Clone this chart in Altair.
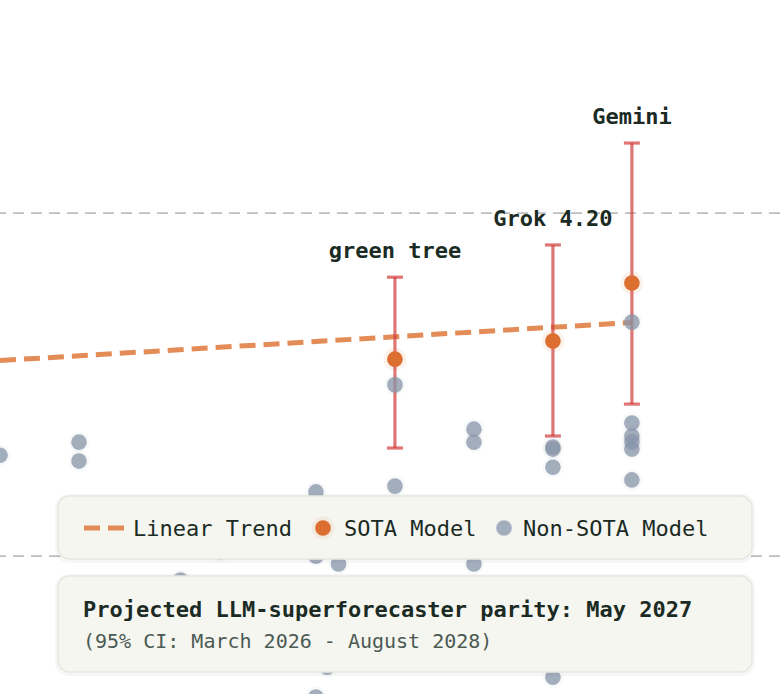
import altair as alt
import pandas as pd

# x = release date (days since 2025-01-01), y = forecasting score (Brier index, %)
sota_names = ["green tree", "Grok 4.20", "Gemini"]
sota_day = [238, 294, 322]
sota_score = [65.74, 66.27, 67.96]
sota_ci_low = [63.15, 63.50, 64.43]
sota_ci_high = [68.13, 69.07, 72.04]

other_day = [98, 126, 126, 162, 176, 210, 210, 210, 214, 218, 238, 238,
             266, 266, 266, 294, 294, 294, 294, 322, 322, 322, 322, 322, 322]
other_score = [62.94, 63.32, 62.77, 59.30, 60.12, 61.87, 60.00, 55.89, 56.76, 59.77, 64.99, 62.04,
               63.70, 63.32, 59.77, 63.18, 63.12, 62.59, 56.47, 66.82, 63.88, 63.50, 63.33, 63.12, 62.22]

trend_day = [98, 322]
trend_score = [65.70, 66.81]

ref_levels = [70.0, 60.0]

legend_labels = ["Linear Trend", "SOTA Model", "Non-SOTA Model"]
note_title = "Projected LLM-superforecaster parity: May 2027"
note_sub = "(95% CI: March 2026 - August 2028)"

W, H = 780, 694
MONO = "DejaVu Sans Mono"
INK = "#1b2b24"
ORANGE = "#dc6e30"
TREND = "#e38c58"
GREY = "#8794a8"
RED = "#d23a3a"

sota = pd.DataFrame({"name": sota_names, "day": sota_day, "score": sota_score,
                     "lo": sota_ci_low, "hi": sota_ci_high})
others = pd.DataFrame({"day": other_day, "score": other_score})
trend = pd.DataFrame({"day": trend_day, "score": trend_score})
refs = pd.DataFrame({"level": ref_levels})

xs = alt.Scale(domain=[98, 374.5], nice=False, zero=False)
ys = alt.Scale(domain=[55.98, 76.21], nice=False, zero=False)


def X(f):
    return alt.X(f, type="quantitative", scale=xs, axis=None)


def Y(f):
    return alt.Y(f, type="quantitative", scale=ys, axis=None)


ref_rules = alt.Chart(refs).mark_rule(stroke="#bdbdbd", strokeWidth=1.8, strokeDash=[11, 7]).encode(
    y=Y("level"))

trend_line = alt.Chart(trend).mark_line(color=TREND, strokeWidth=5, strokeDash=[16, 8], clip=True).encode(
    x=X("day"), y=Y("score"))

err = alt.Chart(sota).mark_rule(color=RED, opacity=0.7, strokeWidth=3.2, clip=True).encode(
    x=X("day"), y=Y("lo"), y2="hi")
cap_lo = alt.Chart(sota).mark_tick(color=RED, opacity=0.7, orient="horizontal", size=16, thickness=3.2).encode(
    x=X("day"), y=Y("lo"))
cap_hi = alt.Chart(sota).mark_tick(color=RED, opacity=0.7, orient="horizontal", size=16, thickness=3.2).encode(
    x=X("day"), y=Y("hi"))

other_halo = alt.Chart(others).mark_circle(size=430, color=GREY, opacity=0.06, clip=True).encode(
    x=X("day"), y=Y("score"))
other_pts = alt.Chart(others).mark_circle(size=245, color=GREY, opacity=0.75, clip=True).encode(
    x=X("day"), y=Y("score"))

sota_halo = alt.Chart(sota).mark_circle(size=520, color=ORANGE, opacity=0.09, clip=True).encode(
    x=X("day"), y=Y("score"))
sota_pts = alt.Chart(sota).mark_circle(size=245, color=ORANGE, opacity=1, clip=True).encode(
    x=X("day"), y=Y("score"))

labels = alt.Chart(sota).mark_text(font=MONO, fontWeight="bold", fontSize=22, color=INK,
                                   align="center", baseline="alphabetic", dy=-19).encode(
    x=X("day"), y=Y("hi"), text="name:N")

one = pd.DataFrame({"k": [0]})


def box(x1, x2, y1, y2):
    shadow = alt.Chart(one).mark_rect(cornerRadius=14, fill="#000000", opacity=0.035).encode(
        x=alt.value(x1 - 3), x2=alt.value(x2 + 3), y=alt.value(y1 - 2), y2=alt.value(y2 + 4))
    body = alt.Chart(one).mark_rect(cornerRadius=12, fill="#f6f6f1", stroke="#e7e7df", strokeWidth=1.5).encode(
        x=alt.value(x1), x2=alt.value(x2), y=alt.value(y1), y2=alt.value(y2))
    return [shadow, body]


def txt(s, x, y, size=22, weight="normal", color=INK):
    return alt.Chart(one).mark_text(font=MONO, fontSize=size, fontWeight=weight, color=color,
                                    align="left", baseline="alphabetic").encode(
        x=alt.value(x), y=alt.value(y), text=alt.value(s))


legend_layers = box(58, 752, 496, 559) + box(58, 752, 576, 672)
legend_layers += [
    alt.Chart(one).mark_rule(color=TREND, strokeWidth=5, strokeDash=[16, 8]).encode(
        x=alt.value(84), x2=alt.value(124), y=alt.value(528)),
    txt(legend_labels[0], 133, 536),
    alt.Chart(one).mark_circle(size=520, color=ORANGE, opacity=0.09).encode(x=alt.value(323), y=alt.value(528)),
    alt.Chart(one).mark_circle(size=245, color=ORANGE, opacity=1).encode(x=alt.value(323), y=alt.value(528)),
    txt(legend_labels[1], 344, 536),
    alt.Chart(one).mark_circle(size=245, color=GREY, opacity=0.75).encode(x=alt.value(504), y=alt.value(528)),
    txt(legend_labels[2], 523, 536),
    txt(note_title, 83, 617, size=22, weight="bold"),
    txt(note_sub, 83, 648, size=20, color="#4b5a53"),
]

chart = alt.layer(
    ref_rules, trend_line, err, cap_lo, cap_hi,
    other_halo, other_pts, sota_halo, sota_pts, labels,
    *legend_layers
).properties(
    width=W, height=H, padding=0, autosize="none", background="#ffffff"
).configure_view(stroke=None)

chart.save("out.html", embed_options={"renderer": "svg", "actions": False})
